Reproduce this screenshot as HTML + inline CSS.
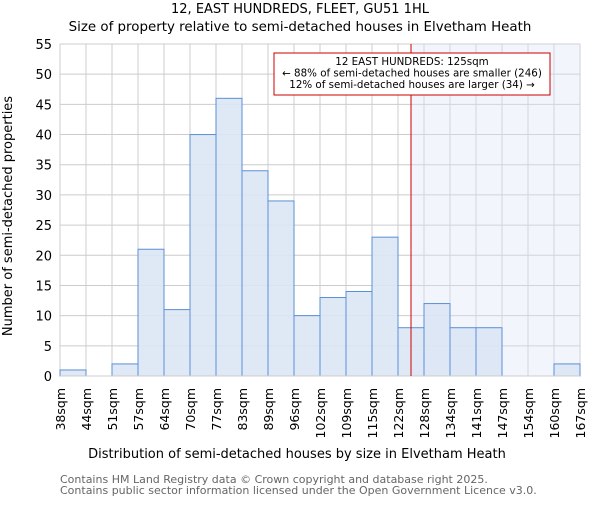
<!DOCTYPE html>
<html><head><meta charset="utf-8"><style>body{margin:0;background:#fff}svg{font-family:"DejaVu Sans","Liberation Sans",sans-serif}</style></head>
<body>
<svg id="c" width="600" height="500" xmlns="http://www.w3.org/2000/svg">
<text x="300" y="13" text-anchor="middle" font-size="13">12, EAST HUNDREDS, FLEET, GU51 1HL</text>
<text x="300" y="31" text-anchor="middle" font-size="13.4">Size of property relative to semi-detached houses in Elvetham Heath</text>
<g id="grid"></g><g id="shade"></g><g id="bars"></g><g id="axes"></g>
<text transform="translate(12,216) rotate(-90)" text-anchor="middle" font-size="13">Number of semi-detached properties</text>
<text x="297" y="458" text-anchor="middle" font-size="13">Distribution of semi-detached houses by size in Elvetham Heath</text>
<text x="60" y="483" font-size="11" fill="#666">Contains HM Land Registry data © Crown copyright and database right 2025.</text>
<text x="60" y="494" font-size="11" fill="#666">Contains public sector information licensed under the Open Government Licence v3.0.</text>
</svg>
<script>
const tickLabels=["38sqm","44sqm","51sqm","57sqm","64sqm","70sqm","77sqm","83sqm","89sqm","96sqm","102sqm","109sqm","115sqm","122sqm","128sqm","134sqm","141sqm","147sqm","154sqm","160sqm","167sqm"];
const counts=[1,0,2,21,11,40,46,34,29,10,13,14,23,8,12,8,8,0,0,2];
const yTicks=[0,5,10,15,20,25,30,35,40,45,50,55];
const markerBin=13.5;
const annot=["12 EAST HUNDREDS: 125sqm","← 88% of semi-detached houses are smaller (246)","12% of semi-detached houses are larger (34) →"];
const L=60,R=580,T=44,B=376,NS="http://www.w3.org/2000/svg";
const n=counts.length,bw=(R-L)/n;
const x=i=>L+i*bw, y=v=>B-(v/55)*(B-T);
function mk(t,a,p){const e=document.createElementNS(NS,t);for(const k in a)e.setAttribute(k,a[k]);(p||document.getElementById('c')).appendChild(e);return e;}
const g=document.getElementById('grid');
yTicks.forEach(v=>{const l=mk('line',{x1:L,x2:R,y1:y(v),y2:y(v),stroke:'#ccc'},g);
const t=mk('text',{x:L-8,y:y(v)+5,'text-anchor':'end','font-size':13},g);t.textContent=v;});
tickLabels.forEach((s,i)=>{const l=mk('line',{x1:x(i),x2:x(i),y1:T,y2:B,stroke:'#ccc'},g);
const t=mk('text',{transform:`translate(${x(i)+5},${B+12}) rotate(-90)`,'text-anchor':'end','font-size':12.5},g);t.textContent=s;});
const mx=x(markerBin);
const sh=mk('rect',{x:mx,y:T,width:R-mx,height:B-T,fill:'#dbe5f7','fill-opacity':0.35},document.getElementById('shade'));

const bg=document.getElementById('bars');
counts.forEach((v,i)=>{if(!v)return;const r=mk('rect',{x:x(i),y:y(v),width:bw,height:B-y(v),fill:'#dce6f4','fill-opacity':0.9,stroke:'#5b8fd6','stroke-width':1},bg);});
const ax=document.getElementById('axes');
const bl=mk('line',{x1:L,x2:R,y1:B,y2:B,stroke:'#ccc'},ax);
const ml=mk('line',{x1:mx,x2:mx,y1:T,y2:B,stroke:'#cc0000'},ax);
const box=mk('rect',{x:274,y:53,width:276,height:42,fill:'#fff',stroke:'#cc0000'},ax);
annot.forEach((s,i)=>{const t=mk('text',{x:412,y:65+i*11.5,'text-anchor':'middle','font-size':10.3},ax);t.textContent=s;});
</script>
</body></html>
